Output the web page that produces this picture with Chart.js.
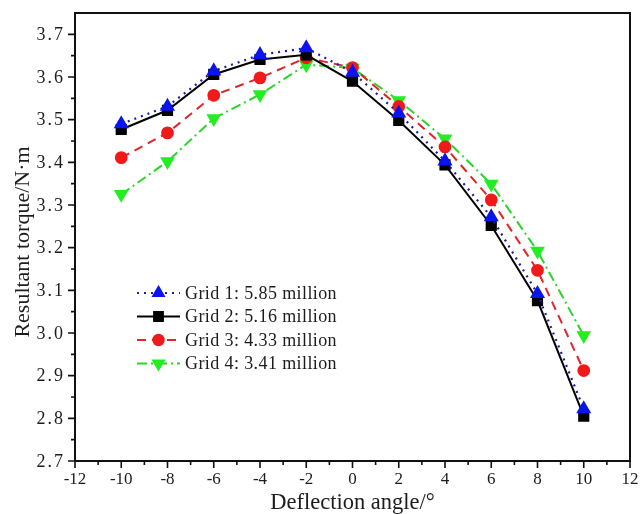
<!DOCTYPE html>
<html>
<head>
<meta charset="utf-8">
<script src="https://cdn.jsdelivr.net/npm/chart.js@4/dist/chart.umd.min.js"></script>
<style>
  html, body { margin: 0; padding: 0; background: #fff; }
  #wrap { width: 641px; height: 514px; }
</style>
</head>
<body>
<div id="wrap"><canvas id="c" width="641" height="514"></canvas></div>
<script>
// Deflection angles (degrees)
const angles = [-10, -8, -6, -4, -2, 0, 2, 4, 6, 8, 10];

// Resultant torque (N·m) for each mesh
const grid1 = [3.490, 3.531, 3.614, 3.652, 3.668, 3.611, 3.515, 3.403, 3.272, 3.092, 2.822];
const grid2 = [3.477, 3.522, 3.606, 3.641, 3.652, 3.590, 3.498, 3.394, 3.252, 3.076, 2.805];
const grid3 = [3.411, 3.469, 3.557, 3.598, 3.645, 3.622, 3.531, 3.436, 3.312, 3.147, 2.912];
const grid4 = [3.325, 3.402, 3.503, 3.559, 3.629, 3.621, 3.545, 3.455, 3.349, 3.192, 2.994];

const seriesNames = [
  'Grid 1: 5.85 million',
  'Grid 2: 5.16 million',
  'Grid 3: 4.33 million',
  'Grid 4: 3.41 million'
];

// Tick values
const xTicks = [-12, -10, -8, -6, -4, -2, 0, 2, 4, 6, 8, 10, 12];
const yTicks = [2.7, 2.8, 2.9, 3.0, 3.1, 3.2, 3.3, 3.4, 3.5, 3.6, 3.7];

const xTitle = 'Deflection angle/°';
const yTitle = 'Resultant torque/N·m';

const SERIF = '"Liberation Serif", "Times New Roman", serif';
const INK = '#1c1c1c';

function pts(vals) { return angles.map((a, i) => ({ x: a, y: vals[i] })); }

// Frame, outward ticks, tick labels, axis titles and the in-plot legend
const framePlugin = {
  id: 'frame',
  afterDraw(chart) {
    const { ctx, chartArea: a, scales } = chart;
    const xs = scales.x, ys = scales.y;
    ctx.save();

    // box
    ctx.strokeStyle = '#111';
    ctx.lineWidth = 2;
    ctx.strokeRect(a.left, a.top, a.right - a.left, a.bottom - a.top);

    // major / minor ticks
    ctx.lineWidth = 1.6;
    ctx.beginPath();
    for (let v = xs.min; v <= xs.max; v += 1) {
      const px = xs.getPixelForValue(v);
      const len = (v % 2 === 0) ? 7 : 4;
      ctx.moveTo(px, a.bottom);
      ctx.lineTo(px, a.bottom + len);
    }
    for (let k = 0; k <= 20; k++) {
      const py = ys.getPixelForValue(2.7 + k * 0.05);
      const len = (k % 2 === 0) ? 7 : 4;
      ctx.moveTo(a.left, py);
      ctx.lineTo(a.left - len, py);
    }
    ctx.stroke();

    // tick labels
    ctx.fillStyle = INK;
    ctx.font = '17px ' + SERIF;
    ctx.textAlign = 'center';
    ctx.textBaseline = 'alphabetic';
    xTicks.forEach(v => {
      ctx.fillText(String(v), xs.getPixelForValue(v), a.bottom + 23);
    });
    ctx.font = '18px ' + SERIF;
    ctx.letterSpacing = '2px';
    ctx.textAlign = 'right';
    ctx.textBaseline = 'middle';
    yTicks.forEach(v => {
      ctx.fillText(v.toFixed(1), a.left - 10, ys.getPixelForValue(v) + 1);
    });
    ctx.letterSpacing = '0px';

    // axis titles
    ctx.font = '22.5px ' + SERIF;
    ctx.textAlign = 'center';
    ctx.textBaseline = 'alphabetic';
    ctx.fillText(xTitle, (a.left + a.right) / 2, chart.height - 5);
    ctx.save();
    ctx.translate(29, (a.top + a.bottom) / 2 + 5);
    ctx.rotate(-Math.PI / 2);
    ctx.font = '22px ' + SERIF;
    ctx.fillText(yTitle, 0, 0);
    ctx.restore();

    // legend
    const lx0 = a.left + 62, lx1 = a.left + 105, tx = a.left + 110;
    let ly = a.top + 280;
    chart.data.datasets.forEach((ds) => {
      ctx.save();
      ctx.strokeStyle = ds.borderColor;
      ctx.lineWidth = ds.borderWidth;
      ctx.setLineDash(ds.borderDash || []);
      ctx.beginPath();
      ctx.moveTo(lx0, ly);
      ctx.lineTo(lx1, ly);
      ctx.stroke();
      ctx.restore();
      ctx.save();
      ctx.fillStyle = ds.pointBackgroundColor;
      ctx.strokeStyle = ds.pointBorderColor;
      Chart.helpers.drawPoint(ctx, {
        pointStyle: ds.pointStyle,
        rotation: ds.pointRotation || 0,
        radius: ds.pointRadius,
        borderWidth: 1
      }, (lx0 + lx1) / 2, ly);
      ctx.restore();
      ctx.fillStyle = INK;
      ctx.font = '18px ' + SERIF;
      ctx.letterSpacing = '0.4px';
      ctx.textAlign = 'left';
      ctx.textBaseline = 'middle';
      ctx.fillText(ds.label, tx, ly + 1);
      ctx.letterSpacing = '0px';
      ly += 23.5;
    });
    ctx.restore();
  }
};

const datasets = [
  { label: seriesNames[0], data: pts(grid1), borderColor: '#1c1ca8',
    pointBackgroundColor: '#0a14f0', pointBorderColor: '#0a14f0',
    borderWidth: 2.2, borderDash: [2, 5], pointStyle: 'triangle', pointRadius: 6.5 },
  { label: seriesNames[1], data: pts(grid2), borderColor: '#000',
    pointBackgroundColor: '#000', pointBorderColor: '#000',
    borderWidth: 2, pointStyle: 'rect', pointRadius: 6.5 },
  { label: seriesNames[2], data: pts(grid3), borderColor: '#e0262a',
    pointBackgroundColor: '#f01a1a', pointBorderColor: '#f01a1a',
    borderWidth: 2, borderDash: [9, 6], pointStyle: 'circle', pointRadius: 5.4 },
  { label: seriesNames[3], data: pts(grid4), borderColor: '#2ad42a',
    pointBackgroundColor: '#22ee22', pointBorderColor: '#22ee22',
    borderWidth: 2, borderDash: [10, 4, 2, 4], pointStyle: 'triangle',
    pointRotation: 180, pointRadius: 6.5 }
];

new Chart(document.getElementById('c'), {
  type: 'line',
  data: { datasets },
  options: {
    responsive: false,
    animation: false,
    devicePixelRatio: 1,
    layout: { padding: { top: 13, right: 11, left: 0, bottom: 0 } },
    plugins: { legend: { display: false }, tooltip: { enabled: false } },
    elements: {
      line: { tension: 0, fill: false },
      point: { borderWidth: 1 }
    },
    scales: {
      x: {
        type: 'linear',
        min: -12, max: 12,
        grid: { display: false },
        border: { display: false },
        ticks: { display: false },
        afterFit(s) { s.height = 53; }
      },
      y: {
        type: 'linear',
        min: 2.7, max: 3.75,
        grid: { display: false },
        border: { display: false },
        ticks: { display: false },
        afterFit(s) { s.width = 75; }
      }
    }
  },
  plugins: [framePlugin]
});
</script>
</body>
</html>
